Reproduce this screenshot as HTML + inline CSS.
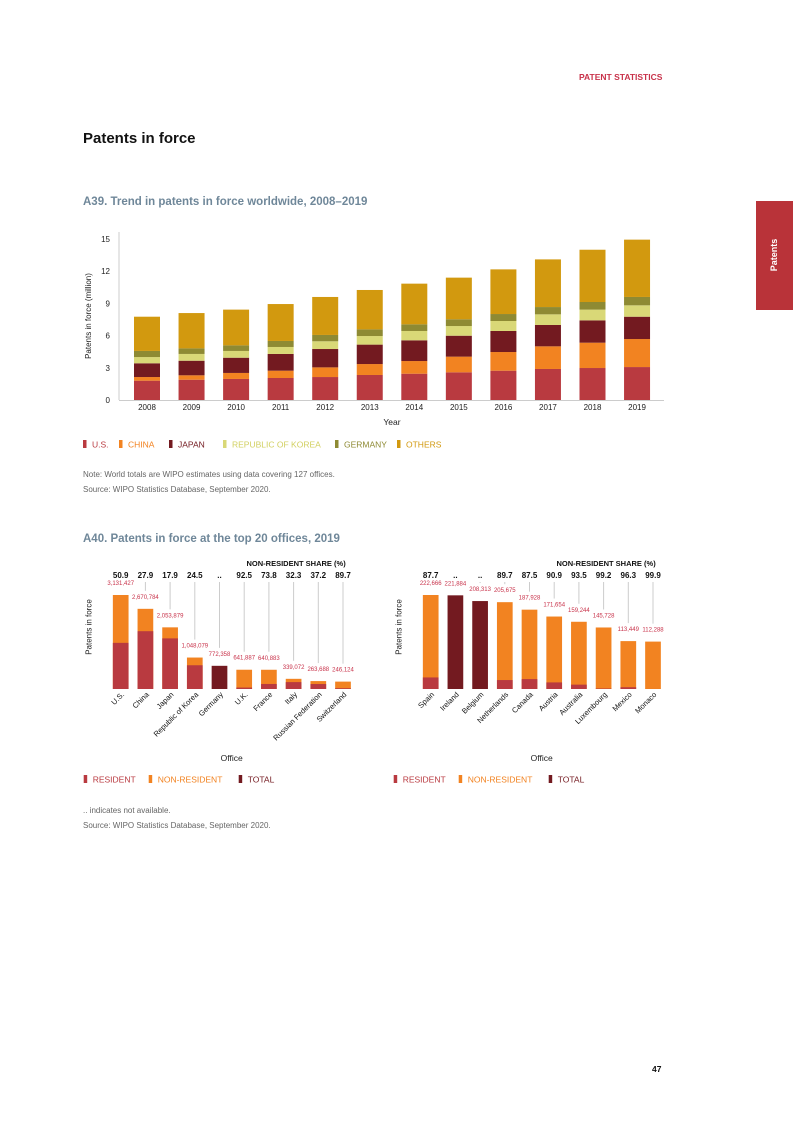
<!DOCTYPE html>
<html><head><meta charset="utf-8">
<style>
body{margin:0;background:#fff;}
#page{position:relative;width:793px;height:1122px;overflow:hidden;font-family:"Liberation Sans",sans-serif;}
.t{position:absolute;white-space:nowrap;}
</style></head>
<body>
<div id="page">
<div class="t" style="left:579px;top:72px;font-size:8.5px;font-weight:bold;color:#c8324a;">PATENT STATISTICS</div>
<div style="position:absolute;left:756px;top:201px;width:37px;height:109px;background:#b93339;"></div>
<div class="t" style="left:754px;top:250px;width:40px;text-align:center;font-size:9px;font-weight:bold;color:#fff;transform:rotate(-90deg);">Patents</div>
<div class="t" style="left:83px;top:130px;font-size:15px;font-weight:bold;color:#111;">Patents in force</div>
<div class="t" style="left:83px;top:196px;font-size:11.5px;font-weight:bold;color:#6f8799;">A39. Trend in patents in force worldwide, 2008–2019</div>
<div class="t" style="left:83px;top:470px;font-size:8px;color:#666;">Note: World totals are WIPO estimates using data covering 127 offices.</div>
<div class="t" style="left:83px;top:485px;font-size:8px;color:#666;">Source: WIPO Statistics Database, September 2020.</div>
<div class="t" style="left:83px;top:533px;font-size:11.5px;font-weight:bold;color:#6f8799;">A40. Patents in force at the top 20 offices, 2019</div>
<div class="t" style="left:83px;top:806px;font-size:8px;color:#666;">.. indicates not available.</div>
<div class="t" style="left:83px;top:821px;font-size:8px;color:#666;">Source: WIPO Statistics Database, September 2020.</div>
<div class="t" style="left:652px;top:1064px;font-size:8.5px;font-weight:bold;color:#111;">47</div>
<svg id="svg" width="793" height="1122" style="position:absolute;left:0;top:0;"></svg>
</div>
<script>
// A39 data (millions)
const years=["2008","2009","2010","2011","2012","2013","2014","2015","2016","2017","2018","2019"];
const usVals=[1.80,1.89,1.96,2.05,2.14,2.33,2.45,2.58,2.73,2.89,2.98,3.07];
const chinaVals=[0.34,0.41,0.56,0.68,0.90,1.02,1.18,1.46,1.74,2.11,2.36,2.61];
const japanVals=[1.28,1.36,1.42,1.56,1.71,1.81,1.93,1.95,1.96,1.99,2.08,2.08];
const koreaVals=[0.58,0.63,0.63,0.65,0.72,0.80,0.87,0.90,0.93,0.99,1.00,1.06];
const germanyVals=[0.57,0.52,0.52,0.56,0.59,0.62,0.62,0.63,0.65,0.68,0.71,0.78];
const othersVals=[3.19,3.29,3.33,3.44,3.54,3.67,3.79,3.88,4.16,4.44,4.87,5.34];
const yTicks=[0,3,6,9,12,15];
// A40 data
const leftOffices=["U.S.","China","Japan","Republic of Korea","Germany","U.K.","France","Italy","Russian Federation","Switzerland"];
const leftTotals=[3131427,2670784,2053879,1048079,772358,641887,640883,339072,263688,246124];
const leftShares=[50.9,27.9,17.9,24.5,null,92.5,73.8,32.3,37.2,89.7];
const rightOffices=["Spain","Ireland","Belgium","Netherlands","Canada","Austria","Australia","Luxembourg","Mexico","Monaco"];
const rightTotals=[222666,221884,208313,205675,187928,171654,159244,145728,113449,112288];
const rightShares=[87.7,null,null,89.7,87.5,90.9,93.5,99.2,96.3,99.9];

const C={us:"#b93a40",china:"#f28321",japan:"#731a20",korea:"#d9d877",germany:"#8e8a33",others:"#d2990f"};
const svg=document.getElementById('svg');
const NS="http://www.w3.org/2000/svg";
function mk(tag,attrs,txt){const e=document.createElementNS(NS,tag);for(const k in attrs)e.setAttribute(k,attrs[k]);if(txt!==undefined)e.textContent=txt;svg.appendChild(e);return e;}

// A39 axes
const y0=400,yTop=239,yMax=15;
const yS=v=>y0-(v/yMax)*(y0-yTop);
const xS=i=>147+i*44.55;
const bw=26;
let e=mk('line',{x1:119,y1:232,x2:119,y2:y0,stroke:'#ccc','stroke-width':1});


e=mk('line',{x1:119,y1:y0+0.5,x2:664,y2:y0+0.5,stroke:'#ccc','stroke-width':1});


yTicks.forEach(t=>{
  const el=mk('text',{x:110,y:yS(t)+3,'font-size':8,'text-anchor':'end',fill:'#222','font-family':'Liberation Sans'},String(t));
  
  
});
e=mk('text',{x:0,y:0,'font-size':8,'text-anchor':'middle',fill:'#222',transform:'translate(91,316) rotate(-90)','font-family':'Liberation Sans'},'Patents in force (million)');


e=mk('text',{x:392,y:425,'font-size':8.5,'text-anchor':'middle',fill:'#222','font-family':'Liberation Sans'},'Year');


const series=[["us",usVals],["china",chinaVals],["japan",japanVals],["korea",koreaVals],["germany",germanyVals],["others",othersVals]];
years.forEach((yr,i)=>{
  let cum=0;
  series.forEach(([k,arr])=>{
    const a=yS(cum),b=yS(cum+arr[i]);cum+=arr[i];
    const r=mk('rect',{x:xS(i)-bw/2,y:b,width:bw,height:a-b,fill:C[k]});
    
    
  });
  const tl=mk('text',{x:xS(i),y:410,'font-size':8,'text-anchor':'middle',fill:'#222','font-family':'Liberation Sans'},yr);
  
  
});
// A39 legend
const leg=[["us","U.S."],["china","CHINA"],["japan","JAPAN"],["korea","REPUBLIC OF KOREA"],["germany","GERMANY"],["others","OTHERS"]];
const legX=[83,119,169,223,335,397];
leg.forEach(([k,l],i)=>{
  const r=mk('rect',{x:legX[i],y:440,width:3.5,height:8,fill:C[k]});
  
  
  const t=mk('text',{x:legX[i]+9,y:447.5,'font-size':8.5,fill:C[k]==C.korea?'#d2d060':C[k],'font-family':'Liberation Sans'},l);
  
  
});

// A40 drawing
function drawOffice(offices,totals,shares,x0,prefix){
  const base=689,maxH=94,maxV=Math.max(...totals);
  const h=v=>v/maxV*maxH;
  const xc=i=>x0+i*24.7;
  const w=15.7;
  const hdr=mk('text',{x:x0+225,y:566,'font-size':7.5,'text-anchor':'end',fill:'#111','font-weight':'bold','font-family':'Liberation Sans'},'NON-RESIDENT SHARE (%)');
  
  
  offices.forEach((o,i)=>{
    const tot=totals[i],sh=shares[i],top=base-h(tot);
    if(sh===null){
      const r=mk('rect',{x:xc(i)-w/2,y:top,width:w,height:h(tot),fill:C.japan});
      
      
    }else{
      const res=tot*(1-sh/100);
      const r1=mk('rect',{x:xc(i)-w/2,y:top,width:w,height:h(tot),fill:C.china});
      
      
      const r2=mk('rect',{x:xc(i)-w/2,y:base-h(res),width:w,height:h(res),fill:C.us});
      
      
    }
    const st=mk('text',{x:xc(i),y:578,'font-size':8,'text-anchor':'middle',fill:'#111','font-weight':'bold','font-family':'Liberation Sans'},sh===null?'..':sh.toFixed(1));
    
    
    const ly=top-10;
    if(ly-8>582){
      const ln=mk('line',{x1:xc(i),y1:582,x2:xc(i),y2:ly-8,stroke:'#ccc','stroke-width':1});
      
      
    }
    const vt=mk('text',{x:xc(i),y:ly,'font-size':6,'text-anchor':'middle',fill:'#c8324a','font-family':'Liberation Sans'},tot.toLocaleString('en-US'));
    
    
    const ol=mk('text',{x:0,y:0,'font-size':7.5,'text-anchor':'end',fill:'#111',transform:`translate(${xc(i)+4},${base+6}) rotate(-45)`,'font-family':'Liberation Sans'},o);
    
    
  });
  const yt=mk('text',{x:0,y:0,'font-size':8,'text-anchor':'middle',fill:'#222',transform:`translate(${x0-29},627) rotate(-90)`,'font-family':'Liberation Sans'},'Patents in force');
  
  
  const xt=mk('text',{x:x0+111,y:761,'font-size':8.5,'text-anchor':'middle',fill:'#222','font-family':'Liberation Sans'},'Office');
  
  
  const lx=x0-37;
  [[C.us,'RESIDENT',0],[C.china,'NON-RESIDENT',65],[C.japan,'TOTAL',155]].forEach(([c,l,dx])=>{
    const r=mk('rect',{x:lx+dx,y:775,width:3.5,height:8,fill:c});
    
    
    const t=mk('text',{x:lx+dx+9,y:782.5,'font-size':8.5,fill:c,'font-family':'Liberation Sans'},l);
    
    
  });
}
drawOffice(leftOffices,leftTotals,leftShares,120.7,'a40-left');
drawOffice(rightOffices,rightTotals,rightShares,430.7,'a40-right');
</script>
</body></html>
